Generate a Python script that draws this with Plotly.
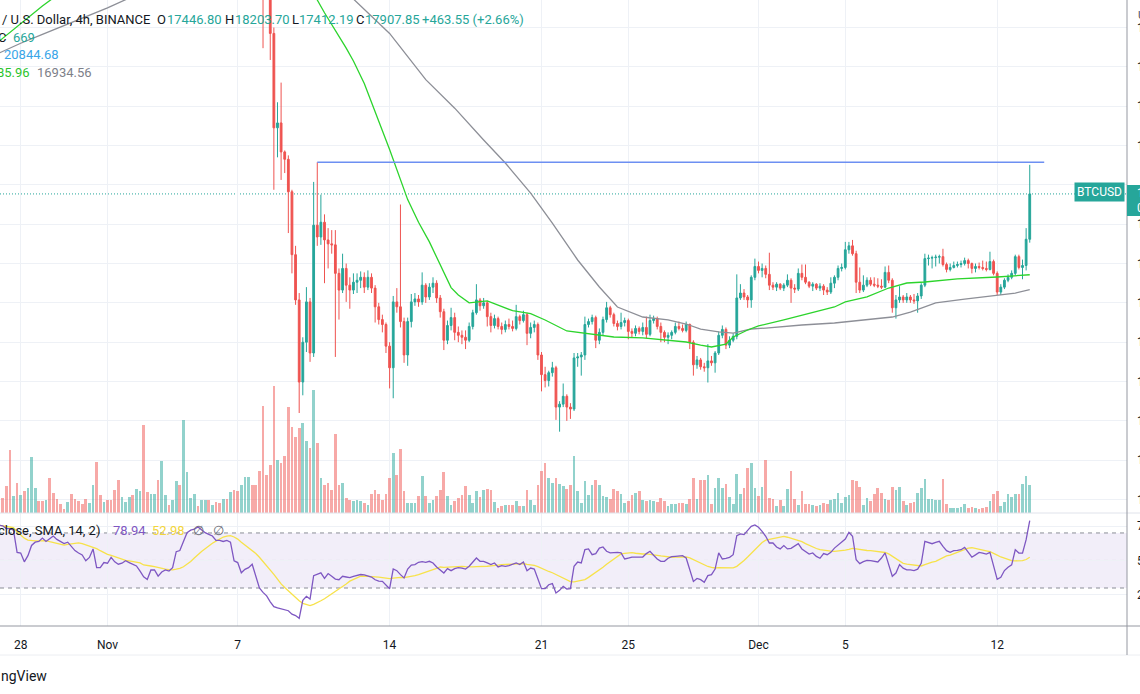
import pandas as pd
import plotly.graph_objects as go

W, H = 1140, 694
FONT = "Roboto"

# ---------------- data (BINANCE BTCUSD, 4h candles, 2022-10-27 .. 2022-12-13 12:00 UTC) ----
first_open = 20770.0
closes = [
    20700, 20560, 20420, 20200, 20260, 20150, 20220, 20180, 20300, 20600,
    20650, 20610, 20580, 20640, 20560, 20520, 20500, 20480, 20470, 20530,
    20450, 20400, 20380, 20350, 20250, 20300, 20520, 20280, 20250, 20330,
    20300, 20280, 20220, 20150, 20200, 20240, 20280, 20230, 20300, 20340,
    20050, 20000, 20100, 20150, 20030, 20180, 20220, 20200, 20250, 20550,
    20500, 21050, 21250, 21300, 21350, 21300, 21330, 21360, 21250, 21280,
    21200, 21150, 21180, 21120, 21150, 20900, 20850, 20880, 20920, 20950,
    20700, 20600, 20450, 20000, 19950, 19540, 18580, 18630, 18335, 18260,
    17930, 17290, 16830, 15995, 16400, 16810, 16290, 17590, 17470, 17620,
    17440, 17400, 17390, 17100, 16930, 17150, 16980, 16930, 17010, 17030,
    17060, 16960, 17060, 16950, 16760, 16630, 16580, 16360, 16140, 16810,
    16760, 16610, 16270, 16610, 16810, 16840, 16810, 16980, 16860, 16960,
    17000, 16850, 16710, 16420, 16570, 16650, 16500, 16470, 16450, 16420,
    16560, 16700, 16830, 16770, 16800, 16660, 16570, 16640, 16560, 16530,
    16580, 16560, 16540, 16660, 16620, 16680, 16490, 16550, 16580, 16270,
    16070, 16010, 16090, 16140, 15740, 15770, 15850, 15740, 15720, 16240,
    16250, 16270, 16580, 16610, 16650, 16420, 16500, 16630, 16750, 16680,
    16590, 16560, 16600, 16620, 16510, 16490, 16540, 16510, 16550, 16480,
    16620, 16640, 16560, 16500, 16450, 16470, 16500, 16560, 16540, 16520,
    16580, 16400, 16170, 16220, 16150, 16140, 16210, 16190, 16290, 16470,
    16530, 16370, 16420, 16460, 16850, 16900, 16860, 16830, 17060, 17170,
    17130, 17150, 17090, 16980, 16960, 16990, 16950, 16980, 17030, 16950,
    16940, 17100, 17060, 17010, 16970, 16990, 16950, 16970, 16930, 16910,
    17000, 17060, 17150, 17160, 17340, 17380, 17300, 17010, 16930, 16980,
    17030, 16990, 16980, 16970, 16960, 17110, 17030, 16750, 16830, 16860,
    16830, 16860, 16830, 16820, 16870, 16980, 17250, 17255, 17260, 17265,
    17270, 17190, 17140, 17160, 17180, 17190, 17200, 17230, 17200, 17150,
    17170, 17160, 17150, 17140, 17220, 17100, 16910, 16960, 17030, 17060,
    17100, 17270, 17160, 17180, 17446.80, 17907.85,
]
highs = [
    20820, 20730, 20600, 20450, 20300, 20290, 20260, 20250, 20340, 20650,
    20700, 20680, 20640, 20670, 20660, 20590, 20550, 20530, 20500, 20560,
    20550, 20480, 20430, 20400, 20370, 20330, 20560, 20540, 20310, 20360,
    20350, 20320, 20300, 20240, 20230, 20270, 20300, 20300, 20330, 20380,
    20420, 20080, 20130, 20180, 20170, 20210, 20250, 20240, 20280, 20600,
    20580, 21120, 21300, 21340, 21400, 21380, 21370, 21420, 21380, 21320,
    21300, 21230, 21220, 21200, 21190, 21170, 20930, 20920, 20960, 21000,
    20970, 20730, 20640, 20480, 20200, 20050, 19600, 18840, 19040, 18350,
    18300, 17950, 17380, 16900, 16450, 16960, 16850, 18030, 18230, 17900,
    17700, 17560, 17540, 17540, 17150, 17300, 17200, 17060, 17100, 17100,
    17120, 17110, 17130, 17100, 16980, 16800, 16680, 16600, 16400, 16870,
    16950, 17800, 16650, 16650, 16890, 16900, 16880, 17110, 17000, 17000,
    17060, 17030, 16880, 16740, 16620, 16750, 16700, 16560, 16520, 16520,
    16600, 16730, 16990, 16850, 16850, 16820, 16700, 16680, 16660, 16600,
    16620, 16640, 16620, 16780, 16680, 16720, 16700, 16600, 16620, 16600,
    16300, 16150, 16110, 16200, 16160, 15800, 15980, 15870, 15780, 16290,
    16290, 16300, 16660, 16640, 16680, 16670, 16540, 16660, 16810, 16770,
    16700, 16620, 16700, 16650, 16640, 16540, 16570, 16560, 16600, 16660,
    16680, 16670, 16660, 16600, 16520, 16500, 16520, 16600, 16610, 16580,
    16610, 16590, 16420, 16260, 16240, 16190, 16380, 16260, 16310, 16510,
    16570, 16550, 16460, 16490, 17090, 16990, 16940, 16880, 17080, 17250,
    17220, 17200, 17180, 17310, 17010, 17010, 17000, 17000, 17090, 17050,
    16990, 17150, 17190, 17190, 17020, 17010, 17000, 17000, 16990, 16960,
    17060, 17080, 17180, 17200, 17420, 17420, 17440, 17330, 17160, 17080,
    17060, 17060, 17060, 17050, 17040, 17170, 17180, 17050, 16880, 16970,
    16880, 16900, 16880, 16890, 16900, 17000, 17300, 17290, 17280, 17290,
    17290, 17350, 17210, 17200, 17220, 17220, 17230, 17260, 17250, 17210,
    17200, 17210, 17230, 17220, 17320, 17240, 17120, 16990, 17050, 17090,
    17130, 17290, 17290, 17240, 17560, 18203.70,
]
lows = [
    20650, 20520, 20380, 20150, 20170, 20100, 20120, 20140, 20160, 20280,
    20560, 20580, 20550, 20560, 20520, 20490, 20470, 20450, 20450, 20450,
    20420, 20370, 20350, 20320, 20220, 20230, 20280, 20240, 20220, 20230,
    20270, 20250, 20190, 20110, 20130, 20180, 20220, 20200, 20210, 20280,
    20000, 19950, 19980, 20080, 19990, 20010, 20160, 20170, 20180, 20230,
    20460, 20480, 21020, 21210, 21270, 21260, 21280, 21300, 21210, 21220,
    21160, 21110, 21120, 21080, 21090, 20850, 20800, 20820, 20850, 20890,
    20650, 20560, 20400, 19390, 19900, 19270, 17950, 18280, 18050, 18120,
    17510, 17100, 16780, 15680, 15860, 16300, 16200, 16250, 17380, 17390,
    17000, 17150, 17300, 16250, 16630, 16900, 16810, 16740, 16890, 16900,
    16950, 16900, 16930, 16900, 16600, 16580, 16500, 16290, 15930, 15830,
    16700, 16550, 16190, 16160, 16550, 16770, 16760, 16780, 16800, 16830,
    16900, 16800, 16650, 16320, 16380, 16520, 16420, 16400, 16380, 16330,
    16400, 16530, 16680, 16720, 16740, 16560, 16500, 16540, 16530, 16480,
    16500, 16530, 16510, 16520, 16580, 16600, 16370, 16440, 16500, 16220,
    15900, 15940, 15950, 16050, 15610, 15490, 15740, 15600, 15620, 15700,
    16150, 16060, 16220, 16550, 16580, 16340, 16380, 16470, 16600, 16650,
    16560, 16520, 16530, 16560, 16430, 16450, 16460, 16480, 16470, 16440,
    16460, 16590, 16530, 16400, 16400, 16380, 16430, 16480, 16520, 16500,
    16500, 16330, 16060, 16130, 16120, 16100, 15990, 16160, 16090, 16270,
    16440, 16330, 16340, 16400, 16430, 16830, 16830, 16750, 16750, 17030,
    17100, 17060, 17050, 16930, 16930, 16920, 16930, 16920, 16960, 16800,
    16900, 16920, 17030, 16990, 16950, 16920, 16930, 16920, 16880, 16880,
    16890, 16950, 17030, 17120, 17140, 17300, 17280, 16900, 16900, 16910,
    16960, 16970, 16960, 16950, 16940, 16950, 17000, 16700, 16640, 16800,
    16800, 16800, 16800, 16790, 16700, 16840, 16960, 17180, 17150, 17170,
    17200, 17170, 17110, 17120, 17150, 17160, 17160, 17180, 17150, 17100,
    17110, 17140, 17130, 17120, 17130, 17080, 16880, 16880, 16940, 17010,
    17040, 17080, 17140, 17040, 17130, 17412.19,
]
volumes = [  # thousand BTC per 4h bar
    12, 15, 26.7, 63.4, 16.7, 30, 18.4, 21.7, 25, 55.7,
    25, 11.7, 11.7, 13.4, 35, 20, 14.4, 9, 4.4, 11,
    19.4, 14.4, 11.7, 9, 14.4, 9.7, 27.7, 50.7, 17.7, 11,
    13.4, 13.4, 22.7, 32.7, 15.7, 11, 15.7, 18.4, 24, 21.7,
    88.4, 21, 19, 19, 32.7, 51.7, 17.7, 7.7, 13.4, 31.7,
    27.7, 93.4, 40.7, 15, 19, 6.7, 13.4, 13.4, 13.4, 7.7,
    11, 10, 14.4, 14.4, 21, 23.4, 21.7, 27.7, 35.7, 35.7,
    27.7, 27.7, 41.7, 106.7, 38.4, 48.4, 126.7, 53.4, 50, 56.7,
    105.7, 85.7, 75.7, 85, 90, 71.7, 65, 123.4, 70, 35,
    28.4, 30, 23.4, 79, 28.4, 30, 15, 13.4, 11.7, 13.4,
    11.7, 10, 8.4, 19, 23.4, 19, 13.4, 19, 35, 60,
    38, 64, 22, 10.4, 10.4, 10.4, 17, 36.7, 16.7, 10,
    13.4, 16.7, 23.4, 41, 16.7, 8.4, 12.4, 15, 18.4, 26.7,
    18.4, 10, 21.7, 15.7, 23.4, 24.4, 23.4, 11, 5, 6.7,
    8.4, 8.4, 8.4, 12.4, 6.7, 6.7, 23.4, 13.4, 8.4, 28.4,
    41.7, 50, 35, 30, 35, 29, 26.7, 24.4, 28.4, 56.7,
    21.7, 10, 31.7, 18.4, 28.4, 33.4, 28.4, 16.7, 15.7, 14.4,
    24.4, 21.7, 19, 10, 11.7, 18.4, 20, 21.7, 13.4, 12.4,
    13.4, 12, 11.3, 15.3, 12, 7, 9.3, 9.3, 10.3, 10.3,
    8.7, 13.7, 34.7, 14.3, 32.7, 32.7, 38, 8.7, 25.4, 35.4,
    25.4, 29, 16, 9.3, 39.4, 18.7, 25.4, 45.4, 50.4, 25.4,
    17, 26, 53.4, 15.3, 13.7, 7, 12.7, 7, 24.4, 42,
    13.7, 8, 22, 8.7, 8.7, 8, 7, 8, 10.3, 9.3,
    12.7, 13.7, 20.3, 10.3, 16, 18, 32.7, 32, 26, 8,
    14.7, 12, 19.3, 24.7, 20.3, 13.7, 13, 26, 23.3, 26.3,
    12, 8, 10.3, 11, 20.3, 24.7, 34.3, 13.7, 13.7, 13,
    13, 33.7, 9.3, 5, 5, 5, 6, 8.7, 5.3, 6,
    5, 4, 5.3, 6, 12, 18.7, 22, 7, 11.3, 18.7,
    16, 19.3, 19.3, 29.3, 37, 27.7,
]
rsi = [
    75.7, 75.2, 73.2, 73.2, 72, 55.9, 55.4, 49, 53.5, 60.9,
    63.3, 63.8, 66.3, 63.8, 65.8, 67.8, 65.3, 63.8, 62.3, 63.3,
    60.4, 57.2, 55.4, 54, 49.8, 52.2, 58.4, 44.8, 44.8, 48.5,
    48, 52.2, 49, 47.3, 48, 49.8, 48.5, 47, 46, 42.3,
    38.1, 36.2, 43.1, 43.1, 38.6, 41.6, 43.1, 42.3, 44.8, 56.4,
    57.2, 63.8, 70.2, 72, 72.7, 74.4, 72, 70.2, 69, 67.8,
    64.6, 64.6, 63.8, 64.6, 63.3, 49.8, 48.5, 41.1, 43.6, 44.8,
    47.3, 38.6, 30, 26.8, 24.3, 20, 16.5, 15.5, 15, 14,
    13.5, 11, 10, 8, 21, 24, 22, 39, 40, 41,
    37, 40.5, 38.5, 36.5, 36, 38.5, 38, 37.5, 38.5, 39,
    39.8, 39.5, 39, 38, 36, 35, 34.8, 32.4, 29.5, 43.8,
    42.6, 39.7, 37.3, 43.8, 46.7, 47, 48.7, 49.2, 48.7, 49.4,
    48.2, 45.3, 43.3, 40.9, 44.1, 42.6, 44.1, 44.8, 44.5, 43.8,
    45.8, 48.7, 51.8, 49.4, 49.4, 48.2, 47, 48.2, 45.3, 46.2,
    45.8, 46.2, 47.5, 48.2, 47, 48.9, 42.6, 44.5, 43.8, 36.1,
    29.5, 29.5, 32.4, 33.2, 26.4, 28.3, 31.2, 29.3, 29.5, 45.8,
    48.9, 48.2, 57.9, 58.4, 54.2, 55, 59, 59.8, 56.7, 55.5,
    55.9, 55.9, 55.5, 51.1, 51.8, 52.5, 52.5, 52.5, 52.5, 55,
    56.7, 53.8, 51.1, 49.4, 49.4, 51.6, 52.8, 53, 53, 53.5,
    51.8, 43.3, 34.8, 37, 36.1, 34.1, 39, 39.7, 43.8, 55.5,
    51.1, 51.6, 52.3, 54.2, 68, 69.3, 68.8, 71.9, 74.8, 75.8,
    74.1, 71.2, 67.6, 62.7, 62.7, 59.8, 58.4, 60.8, 58.4, 58.8,
    60.3, 62.2, 58.4, 56.2, 54.7, 55.5, 53, 51.6, 55, 54.2,
    55.9, 59, 61.3, 63.2, 65.6, 70.5, 67.6, 50.6, 47.7, 49.2,
    50.1, 49.9, 49.4, 48.9, 51.8, 55.5, 47, 38.5, 40.9, 47,
    44.4, 43.2, 43.2, 42.7, 43.7, 48, 63.9, 63.2, 62.2, 63.2,
    63.9, 60.2, 57.1, 55.9, 57.1, 57.3, 57.8, 59.5, 55.9, 52.4,
    54.1, 55.9, 55.4, 54.6, 55.9, 45.6, 36.3, 37.8, 42.7, 45.1,
    46.8, 57.8, 55.4, 55.4, 65.1, 78.94,
]

ma_fast_dates = [
    "2022-10-27 00:00", "2022-10-28 00:00", "2022-10-29 00:00", "2022-10-30 00:00",
    "2022-10-31 00:00", "2022-11-01 00:00", "2022-11-02 00:00", "2022-11-03 00:00",
    "2022-11-04 00:00", "2022-11-05 00:00", "2022-11-06 00:00", "2022-11-07 00:00",
    "2022-11-08 00:00", "2022-11-09 00:00", "2022-11-10 00:00", "2022-11-10 16:00",
    "2022-11-11 00:00", "2022-11-12 00:00", "2022-11-12 08:00", "2022-11-12 20:00",
    "2022-11-13 00:00", "2022-11-13 12:00", "2022-11-14 00:00", "2022-11-14 20:00",
    "2022-11-15 08:00", "2022-11-15 20:00", "2022-11-16 08:00", "2022-11-16 20:00",
    "2022-11-17 04:00", "2022-11-17 16:00", "2022-11-18 12:00", "2022-11-19 16:00",
    "2022-11-20 12:00", "2022-11-21 04:00", "2022-11-22 04:00", "2022-11-23 00:00",
    "2022-11-24 08:00", "2022-11-25 16:00", "2022-11-26 20:00", "2022-11-27 16:00",
    "2022-11-28 08:00", "2022-11-28 20:00", "2022-11-29 12:00", "2022-11-29 20:00",
    "2022-11-30 12:00", "2022-12-01 00:00", "2022-12-02 04:00", "2022-12-03 12:00",
    "2022-12-04 12:00", "2022-12-05 00:00", "2022-12-06 00:00", "2022-12-07 00:00",
    "2022-12-07 20:00", "2022-12-08 16:00", "2022-12-10 04:00", "2022-12-12 00:00",
    "2022-12-12 20:00", "2022-12-13 12:00",
]
ma_fast = [
    19460, 19640, 19820, 19980, 20080, 20150, 20210, 20250, 20290, 20380,
    20480, 20560, 20620, 20450, 20150, 19880, 19750, 19390, 19260, 19030,
    18936, 18640, 18360, 17850, 17620, 17420, 17180, 16955, 16880, 16800,
    16820, 16720, 16690, 16626, 16514, 16493, 16453, 16443, 16422, 16402,
    16371, 16351, 16381, 16453, 16524, 16565, 16626, 16697, 16758, 16809,
    16860, 16951, 17002, 17012, 17043, 17063, 17073, 17085.96,
]
ma_slow_dates = [
    "2022-10-27 00:00", "2022-10-28 00:00", "2022-10-29 00:00", "2022-10-30 00:00",
    "2022-10-31 00:00", "2022-11-01 00:00", "2022-11-02 00:00", "2022-11-03 00:00",
    "2022-11-04 00:00", "2022-11-05 00:00", "2022-11-06 00:00", "2022-11-07 00:00",
    "2022-11-08 00:00", "2022-11-09 00:00", "2022-11-10 00:00", "2022-11-11 00:00",
    "2022-11-12 00:00", "2022-11-12 08:00", "2022-11-13 00:00", "2022-11-14 00:00",
    "2022-11-15 16:00", "2022-11-17 00:00", "2022-11-18 08:00", "2022-11-19 08:00",
    "2022-11-20 12:00", "2022-11-21 12:00", "2022-11-22 16:00", "2022-11-23 16:00",
    "2022-11-24 12:00", "2022-11-25 16:00", "2022-11-26 20:00", "2022-11-27 16:00",
    "2022-11-28 08:00", "2022-11-29 04:00", "2022-11-29 20:00", "2022-11-30 16:00",
    "2022-12-01 08:00", "2022-12-03 00:00", "2022-12-04 12:00", "2022-12-05 12:00",
    "2022-12-07 04:00", "2022-12-08 00:00", "2022-12-09 04:00", "2022-12-10 12:00",
    "2022-12-12 00:00", "2022-12-12 20:00", "2022-12-13 12:00",
]
ma_slow = [
    19340, 19440, 19530, 19620, 19710, 19800, 19900, 19980, 20050, 20130,
    20200, 20260, 20300, 20300, 20250, 20130, 19980, 19890, 19750, 19540,
    19070, 18780, 18456, 18222, 17917, 17612, 17236, 16961, 16758, 16656,
    16626, 16585, 16534, 16504, 16493, 16534, 16544, 16575, 16595, 16616,
    16656, 16707, 16799, 16839, 16880, 16900, 16934.56,
]

level_price = 18230
level_start, level_end = "2022-11-10 16:00", "2022-12-14 04:00"

x_ticks = ["2022-10-28", "2022-11-01", "2022-11-07", "2022-11-14", "2022-11-21",
           "2022-11-25", "2022-12-01", "2022-12-05", "2022-12-12"]
x_labels = ["28", "Nov", "7", "14", "21", "25", "Dec", "5", "12"]
price_ticks = [14800, 15200, 15600, 16000, 16400, 16800, 17200, 17600,
               18000, 18400, 18800, 19200, 19600]
rsi_ticks = [25, 50, 75]
rsi_levels = [70, 50, 30]

# ---------------- derived ----------------
times = pd.date_range("2022-10-27 00:00", periods=len(closes), freq="4h")
opens = [first_open] + closes[:-1]
highs = [max(h, o, c) for h, o, c in zip(highs, opens, closes)]
lows = [min(l, o, c) for l, o, c in zip(lows, opens, closes)]
vol_colors = ["rgba(38,166,154,0.5)" if c >= o else "rgba(239,83,80,0.5)"
              for o, c in zip(opens, closes)]
rsi_ma = pd.Series(rsi).rolling(14, min_periods=1).mean()
# the 18000 label sits under the last-price badge on the scale
price_text = ["" if v == 18000 else f"{v:.2f}" for v in price_ticks]

# ---------------- geometry ----------------
XD = 1127 / W
MAIN_BOT = 1 - 513 / H
RSI_BOT = 1 - 626 / H
X_RANGE = ["2022-10-27 01:06", "2022-12-17 23:34"]
GRID = "#eef1f6"
TEAL, RED = "#26a69a", "#ef5350"
TXT = "#131722"


def px(x):
    return x / W


def py(y):
    return 1 - y / H


fig = go.Figure()

fig.add_trace(go.Bar(x=times, y=volumes, marker=dict(color=vol_colors, line=dict(width=0)),
                     width=0.75 * 4 * 3600 * 1000, xaxis="x", yaxis="y", hoverinfo="skip"))
fig.add_trace(go.Scatter(x=ma_slow_dates, y=ma_slow, mode="lines",
                         line=dict(color="#8d8f97", width=1.3), xaxis="x", yaxis="y2",
                         hoverinfo="skip"))
fig.add_trace(go.Scatter(x=ma_fast_dates, y=ma_fast, mode="lines",
                         line=dict(color="#2cd42c", width=1.3), xaxis="x", yaxis="y2",
                         hoverinfo="skip"))
fig.add_trace(go.Candlestick(
    x=times, open=opens, high=highs, low=lows, close=closes,
    increasing=dict(line=dict(color=TEAL, width=1), fillcolor=TEAL),
    decreasing=dict(line=dict(color=RED, width=1), fillcolor=RED),
    whiskerwidth=0, xaxis="x", yaxis="y2", hoverinfo="skip"))
fig.add_trace(go.Scatter(x=[level_start, level_end], y=[level_price, level_price], mode="lines",
                         line=dict(color="#6d8ff2", width=1.5), xaxis="x", yaxis="y2",
                         hoverinfo="skip"))

fig.add_trace(go.Scatter(x=times, y=rsi_ma, mode="lines", line=dict(color="#f7e24a", width=1.3),
                         xaxis="x2", yaxis="y3", hoverinfo="skip"))
fig.add_trace(go.Scatter(x=times, y=rsi, mode="lines", line=dict(color="#7e57c2", width=1.3),
                         xaxis="x2", yaxis="y3", hoverinfo="skip"))

shapes = [
    dict(type="rect", xref="paper", yref="y3", x0=0, x1=XD, y0=30, y1=70,
         fillcolor="rgba(126,87,194,0.1)", line=dict(width=0), layer="between"),
]
for lv in rsi_levels:
    shapes.append(dict(type="line", xref="paper", yref="y3", x0=0, x1=XD, y0=lv, y1=lv,
                       line=dict(color="#8a8d96", width=1, dash="4px,4px"), layer="between"))
shapes += [
    dict(type="line", xref="paper", yref="y2", x0=0, x1=XD, y0=closes[-1], y1=closes[-1],
         line=dict(color=TEAL, width=1, dash="1px,2px"), layer="between"),
    dict(type="line", xref="paper", yref="paper", x0=0, x1=1, y0=MAIN_BOT, y1=MAIN_BOT,
         line=dict(color="#e0e3eb", width=1)),
    dict(type="line", xref="paper", yref="paper", x0=0, x1=1, y0=RSI_BOT, y1=RSI_BOT,
         line=dict(color="#9598a1", width=1)),
    dict(type="line", xref="paper", yref="paper", x0=0, x1=1, y0=py(655), y1=py(655),
         line=dict(color="#eceef2", width=1)),
    dict(type="line", xref="paper", yref="paper", x0=XD, x1=XD, y0=py(655), y1=1,
         line=dict(color="#9598a1", width=1)),
    dict(type="rect", xref="paper", yref="paper", x0=XD, x1=1, y0=py(216), y1=py(185),
         fillcolor=TEAL, line=dict(width=0)),
]


def txt(x, y, s, color=TXT, size=13, anchor="left", **kw):
    d = dict(x=px(x), y=py(y), xref="paper", yref="paper", text=s, showarrow=False,
             xanchor=anchor, yanchor="middle", font=dict(color=color, size=size, family=FONT))
    d.update(kw)
    return d


ann = [
    txt(0, 19, "/ U.S. Dollar, 4h, BINANCE"),
    txt(155, 19, "O"), txt(165, 19, "17446.80", TEAL),
    txt(223, 19, "H"), txt(233, 19, "18203.70", TEAL),
    txt(290, 19, "L"), txt(297, 19, "17412.19", TEAL),
    txt(354, 19, "C"), txt(363, 19, "17907.85", TEAL),
    txt(420, 19, "+463.55 (+2.66%)", TEAL),
    txt(-4, 37, "C"), txt(11, 37, "669", TEAL),
    txt(2, 55, "20844.68", "#3aa6e8"),
    txt(-5, 73, "85.96", "#2cc42c"), txt(35, 73, "16934.56", "#7d8089"),
    txt(-4, 530, "close, SMA, 14, 2)"),
    txt(111, 530, "78.94", "#7e57c2"), txt(150, 530, "52.98", "#f2d53a"),
    txt(191, 530, "\u2205", "#6a6d78"), txt(211, 530, "\u2205", "#6a6d78"),
    txt(-1, 676, "ngView", TXT, 14),
    txt(1136, 15, "USD", "#50535e", 11),
    txt(1099, 192, "BTCUSD", "white", 12, "center", bgcolor=TEAL, borderpad=2),
    txt(1135, 193, "17907.85", "white", 12),
    txt(1135, 208, "00:41:18", "white", 12),
]

fig.update_layout(
    width=W, height=H, template="none",
    margin=dict(l=0, r=0, t=0, b=0, pad=0),
    paper_bgcolor="white", plot_bgcolor="white", showlegend=False,
    font=dict(family=FONT, size=12, color=TXT),
    bargap=0,
    xaxis=dict(domain=[0, XD], range=X_RANGE, type="date", anchor="y",
               tickvals=x_ticks, showticklabels=False, showgrid=True, gridcolor=GRID,
               gridwidth=1, zeroline=False, showline=False, ticks="",
               rangeslider=dict(visible=False), fixedrange=True),
    yaxis=dict(domain=[MAIN_BOT, 1], range=[0, 513], visible=False, showgrid=False,
               zeroline=False, fixedrange=True),
    yaxis2=dict(domain=[MAIN_BOT, 1], range=[14663, 19880], overlaying="y", side="right",
                anchor="x", tickvals=price_ticks, ticktext=price_text,
                showgrid=True, gridcolor=GRID, gridwidth=1, zeroline=False, showline=False,
                ticks="", ticklabelstandoff=9, automargin=False,
                tickfont=dict(size=12, color=TXT), fixedrange=True),
    xaxis2=dict(domain=[0, XD], range=X_RANGE, type="date", anchor="y3", matches="x",
                tickvals=x_ticks, ticktext=x_labels, showgrid=True, gridcolor=GRID,
                gridwidth=1, zeroline=False, showline=False, ticks="",
                ticklabelstandoff=10, automargin=False,
                tickfont=dict(size=12, color=TXT), fixedrange=True),
    yaxis3=dict(domain=[RSI_BOT, MAIN_BOT], range=[2.4, 84.5], anchor="x2", side="right",
                tickvals=rsi_ticks, ticktext=[str(v) for v in rsi_ticks], showgrid=True,
                gridcolor=GRID, gridwidth=1, zeroline=False, showline=False, ticks="",
                ticklabelstandoff=9, automargin=False,
                tickfont=dict(size=12, color=TXT), fixedrange=True),
    shapes=shapes,
    annotations=ann,
)

fig.write_html("out.html", include_plotlyjs=True, full_html=True,
               config={"displayModeBar": False, "staticPlot": True},
               post_script="document.body.style.margin='0';document.body.style.overflow='hidden';")
